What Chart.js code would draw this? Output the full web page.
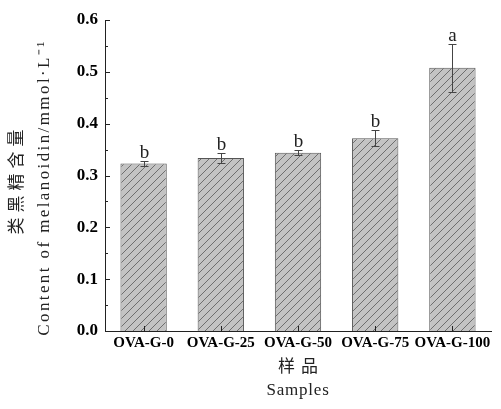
<!DOCTYPE html>
<html><head><meta charset="utf-8">
<script src="https://cdn.jsdelivr.net/npm/chart.js@4"></script>
<style>html,body{margin:0;padding:0;background:#fff}#wrap{width:501px;height:409px;position:relative}</style>
</head><body><div id="wrap"><canvas id="c" width="501" height="409"></canvas></div>
<script>
const categories = ['OVA-G-0', 'OVA-G-25', 'OVA-G-50', 'OVA-G-75', 'OVA-G-100'];
const melanoidin = [0.323, 0.334, 0.344, 0.372, 0.508];
const errors = [0.005, 0.010, 0.0045, 0.0155, 0.046];
const letters = ['b', 'b', 'b', 'b', 'a'];
const yTicks = [0, 0.1, 0.2, 0.3, 0.4, 0.5, 0.6];
const yMinorTicks = [0.05, 0.15, 0.25, 0.35, 0.45, 0.55];
const yTitle = ['类黑精含量', 'Content of melanoidin/mmol·L⁻¹'];
const xTitle = ['样品', 'Samples'];

const SERIF = "'Liberation Serif', 'Times New Roman', 'Noto Sans CJK SC', serif";

function makeHatch() {
  const p = document.createElement('canvas');
  p.width = 8; p.height = 8;
  const g = p.getContext('2d');
  g.fillStyle = '#c3c3c3';
  g.fillRect(0, 0, 8, 8);
  g.strokeStyle = '#6e6e6e';
  g.lineWidth = 1;
  g.beginPath();
  g.moveTo(-1, 9); g.lineTo(9, -1);
  g.moveTo(-1, 1); g.lineTo(1, -1);
  g.moveTo(7, 9); g.lineTo(9, 7);
  g.stroke();
  return g.createPattern(p, 'repeat');
}

const decor = {
  id: 'decor',
  afterDatasetsDraw(chart) {
    const ctx = chart.ctx, ys = chart.scales.y;
    const meta = chart.getDatasetMeta(0);
    ctx.save();
    ctx.strokeStyle = '#444';
    ctx.lineWidth = 1;
    meta.data.forEach((el, i) => {
      const x = Math.round(el.x) + 0.5;
      const t = Math.round(ys.getPixelForValue(melanoidin[i] + errors[i])) + 0.5;
      const b = Math.round(ys.getPixelForValue(melanoidin[i] - errors[i])) + 0.5;
      ctx.beginPath();
      ctx.moveTo(x, t); ctx.lineTo(x, b);
      ctx.moveTo(x - 4, t); ctx.lineTo(x + 4, t);
      ctx.moveTo(x - 4, b); ctx.lineTo(x + 4, b);
      ctx.stroke();
      ctx.fillStyle = '#222';
      ctx.font = '19px ' + SERIF;
      ctx.textAlign = 'center';
      ctx.textBaseline = 'alphabetic';
      ctx.fillText(letters[i], x, t - 4);
    });
    // inward ticks
    ctx.strokeStyle = '#222';
    const left = chart.chartArea.left, bottom = chart.chartArea.bottom;
    ctx.beginPath();
    yTicks.forEach(v => {
      const y = Math.round(ys.getPixelForValue(v)) + 0.5;
      ctx.moveTo(left, y); ctx.lineTo(left + 5, y);
    });
    yMinorTicks.forEach(v => {
      const y = Math.round(ys.getPixelForValue(v)) + 0.5;
      ctx.moveTo(left, y); ctx.lineTo(left + 3, y);
    });
    meta.data.forEach(el => {
      const x = Math.round(el.x) + 0.5;
      ctx.moveTo(x, bottom); ctx.lineTo(x, bottom - 5);
    });
    ctx.stroke();
    ctx.restore();
  },
  afterDraw(chart) {
    const ctx = chart.ctx, a = chart.chartArea;
    ctx.save();
    ctx.fillStyle = '#222';
    ctx.font = '17px ' + SERIF;
    ctx.textAlign = 'center';
    ctx.textBaseline = 'middle';
    // y title (rotated)
    const cy = (a.top + a.bottom) / 2 + 12;
    [18, 45].forEach((cx, i) => {
      ctx.save();
      ctx.translate(cx, i === 0 ? cy - 8 : cy);
      ctx.rotate(-Math.PI / 2);
      try { ctx.letterSpacing = i === 0 ? '5px' : '2.4px'; } catch (e) {}
      ctx.fillText(yTitle[i], 0, 0);
      ctx.restore();
    });
    const cx = (a.left + a.right) / 2;
    try { ctx.letterSpacing = '6px'; } catch (e) {}
    ctx.fillText(xTitle[0], cx + 3, 368);
    try { ctx.letterSpacing = '0.8px'; } catch (e) {}
    ctx.fillText(xTitle[1], cx, 391);
    ctx.restore();
  }
};

new Chart(document.getElementById('c'), {
  type: 'bar',
  data: {
    labels: categories,
    datasets: [{
      data: melanoidin,
      backgroundColor: makeHatch(),
      borderColor: '#555',
      borderWidth: 1,
      categoryPercentage: 1,
      barPercentage: 0.6
    }]
  },
  options: {
    responsive: false,
    animation: false,
    devicePixelRatio: 1,
    layout: { padding: { top: 20, right: 10, left: 0, bottom: 0 } },
    plugins: { legend: { display: false }, tooltip: { enabled: false } },
    scales: {
      x: {
        grid: { display: false, drawTicks: false },
        border: { display: true, color: '#222', width: 1 },
        ticks: {
          autoSkip: false, maxRotation: 0, minRotation: 0, padding: 3,
          color: '#000',
          font: { family: SERIF, size: 15, weight: 'bold' }
        },
        afterFit(s) { s.height = 78; }
      },
      y: {
        min: 0, max: 0.6,
        grid: { display: false, drawTicks: false },
        border: { display: true, color: '#222', width: 1 },
        afterBuildTicks(s) { s.ticks = yTicks.map(v => ({ value: v })); },
        ticks: {
          padding: 7, color: '#000',
          font: { family: SERIF, size: 17, weight: 'bold' },
          callback: v => Number(v).toFixed(1)
        },
        afterFit(s) { s.width = 105; }
      }
    }
  },
  plugins: [decor]
});
</script>
</body></html>
